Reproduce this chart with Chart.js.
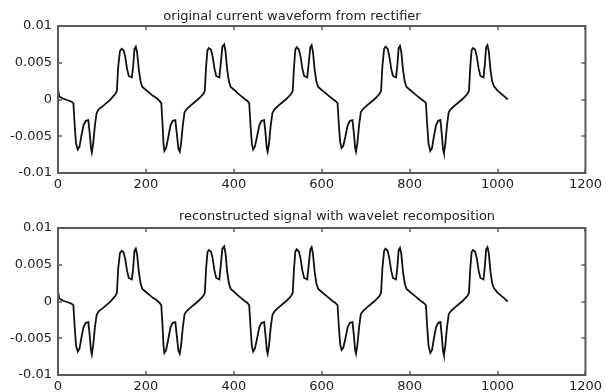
<!DOCTYPE html>
<html lang="en">
<head>
<meta charset="UTF-8">
<title>original vs reconstructed waveform</title>
<script src="https://cdn.jsdelivr.net/npm/chart.js"></script>
<style>
  body { margin: 0; background: #fff; width: 606px; height: 392px; overflow: hidden; }
  canvas { position: absolute; left: 0; }
  #origChart { top: 0; }
  #recChart { top: 202px; }
</style>
</head>
<body>
<canvas id="origChart" width="606" height="202"></canvas>
<canvas id="recChart" width="606" height="190"></canvas>
<script>
// sample index of each vertex (5 periods of ~200 samples)
const sampleIdx = [
  0, 3, 12, 22, 31, 35, 38, 41, 45, 49, 53, 58, 63, 69, 72, 75, 77, 80, 84, 88, 93, 102, 110, 118, 125, 131, 134, 137, 141, 145, 149, 153, 157, 161, 168, 171, 174, 177, 180, 184, 188, 192,
  200, 208, 216, 224, 231, 235, 238, 240, 242, 246, 251, 256, 261, 267, 270, 274, 277, 280, 284, 288, 293, 302, 310, 318, 325, 331, 334, 337, 340, 343, 348, 352, 356, 360, 367, 370, 374, 378, 381, 385, 389, 393,
  401, 408, 416, 424, 431, 435, 438, 441, 444, 448, 453, 458, 463, 469, 472, 475, 477, 480, 484, 488, 493, 502, 510, 518, 525, 531, 534, 537, 540, 543, 548, 552, 556, 560, 567, 570, 574, 577, 580, 584, 588, 592,
  600, 608, 616, 624, 631, 636, 639, 642, 645, 649, 654, 659, 664, 670, 673, 676, 678, 681, 685, 689, 694, 703, 711, 719, 726, 732, 735, 738, 742, 745, 750, 754, 758, 762, 769, 772, 775, 778, 781, 785, 789, 793,
  801, 809, 817, 825, 832, 837, 840, 843, 847, 851, 855, 860, 865, 870, 873, 876, 878, 881, 885, 889, 894, 903, 911, 919, 926, 932, 935, 938, 941, 944, 949, 953, 957, 961, 968, 971, 974, 977, 980, 984, 988, 992,
  1000, 1008, 1016, 1023
];

// rectifier current, same vertices
const original = [
  0.0014, 0.0004, 0.0001, -0.0001, -0.0003, -0.0005, -0.0035, -0.0060, -0.0068, -0.0064, -0.0050, -0.0035, -0.0029, -0.0028, -0.0045, -0.0066, -0.0072, -0.0060, -0.0035, -0.0018, -0.0013, -0.0009, -0.0005, -0.0001, 0.0004, 0.0008, 0.0012, 0.0045, 0.0066, 0.0069, 0.0067, 0.0058, 0.0042, 0.0032, 0.0030, 0.0045, 0.0069, 0.0072, 0.0064, 0.0040, 0.0024, 0.0017,
  0.0013, 0.0009, 0.0005, 0.0002, -0.0002, -0.0005, -0.0035, -0.0060, -0.0070, -0.0066, -0.0051, -0.0035, -0.0029, -0.0028, -0.0045, -0.0067, -0.0071, -0.0060, -0.0035, -0.0017, -0.0013, -0.0008, -0.0004, 0.0000, 0.0004, 0.0008, 0.0012, 0.0045, 0.0067, 0.0070, 0.0068, 0.0058, 0.0042, 0.0032, 0.0030, 0.0047, 0.0072, 0.0075, 0.0066, 0.0040, 0.0024, 0.0017,
  0.0013, 0.0009, 0.0005, 0.0001, -0.0002, -0.0005, -0.0035, -0.0060, -0.0068, -0.0064, -0.0050, -0.0035, -0.0029, -0.0028, -0.0045, -0.0066, -0.0071, -0.0060, -0.0035, -0.0018, -0.0013, -0.0008, -0.0004, 0.0000, 0.0004, 0.0008, 0.0012, 0.0045, 0.0068, 0.0071, 0.0068, 0.0058, 0.0042, 0.0032, 0.0030, 0.0047, 0.0071, 0.0074, 0.0065, 0.0040, 0.0024, 0.0017,
  0.0013, 0.0009, 0.0005, 0.0001, -0.0002, -0.0005, -0.0035, -0.0058, -0.0066, -0.0063, -0.0050, -0.0035, -0.0029, -0.0028, -0.0045, -0.0066, -0.0071, -0.0060, -0.0035, -0.0017, -0.0013, -0.0008, -0.0004, 0.0000, 0.0004, 0.0008, 0.0012, 0.0045, 0.0069, 0.0072, 0.0069, 0.0058, 0.0042, 0.0032, 0.0030, 0.0046, 0.0070, 0.0073, 0.0065, 0.0040, 0.0024, 0.0017,
  0.0013, 0.0009, 0.0005, 0.0001, -0.0002, -0.0005, -0.0035, -0.0060, -0.0070, -0.0066, -0.0051, -0.0035, -0.0029, -0.0028, -0.0046, -0.0068, -0.0073, -0.0061, -0.0035, -0.0017, -0.0013, -0.0008, -0.0004, 0.0000, 0.0004, 0.0008, 0.0012, 0.0045, 0.0067, 0.0070, 0.0068, 0.0058, 0.0042, 0.0032, 0.0030, 0.0047, 0.0071, 0.0074, 0.0066, 0.0040, 0.0024, 0.0018,
  0.0012, 0.0008, 0.0004, 0.0000
];

// the recomposed signal reads identical to the original in the picture
const reconstructed = original.slice();

const xTicks = [0, 200, 400, 600, 800, 1000, 1200];
const yTicks = [-0.01, -0.005, 0, 0.005, 0.01];
const yTickLabels = ['-0.01', '-0.005', '0', '0.005', '0.01'];

const FONT = 'DejaVu Sans';
const INK = '#222';
const FRAME = '#5a5a5a';

// matlab style box: full frame, inward ticks on all four sides, title above
const matlabFrame = {
  id: 'matlabFrame',
  afterDraw(chart, args, opts) {
    const { ctx, chartArea: a, scales } = chart;
    ctx.save();
    ctx.strokeStyle = FRAME;
    ctx.lineWidth = 2;
    ctx.strokeRect(a.left, a.top, a.right - a.left, a.bottom - a.top);
    ctx.lineWidth = 1.5;
    ctx.beginPath();
    xTicks.forEach(v => {
      const px = Math.round(scales.x.getPixelForValue(v));
      ctx.moveTo(px, a.bottom); ctx.lineTo(px, a.bottom - 4);
      ctx.moveTo(px, a.top); ctx.lineTo(px, a.top + 4);
    });
    yTicks.forEach(v => {
      const py = Math.round(scales.y.getPixelForValue(v));
      ctx.moveTo(a.left, py); ctx.lineTo(a.left + 4, py);
      ctx.moveTo(a.right, py); ctx.lineTo(a.right - 4, py);
    });
    ctx.stroke();
    ctx.fillStyle = INK;
    ctx.font = '13px "' + FONT + '"';
    ctx.textAlign = 'center';
    ctx.textBaseline = 'middle';
    ctx.fillText(opts.text, opts.x, opts.y);
    ctx.restore();
  }
};

function makeChart(id, series, title, titleX, titleY, xAxisHeight) {
  return new Chart(document.getElementById(id), {
    type: 'scatter',
    data: {
      datasets: [{
        data: sampleIdx.map((x, i) => ({ x: x, y: series[i] })),
        showLine: true,
        borderColor: '#111',
        borderWidth: 1.8,
        pointRadius: 0,
        tension: 0
      }]
    },
    options: {
      responsive: false,
      animation: false,
      events: [],
      layout: { padding: { left: 0, right: 19, top: 26, bottom: 0 } },
      plugins: {
        legend: { display: false },
        tooltip: { enabled: false },
        matlabFrame: { text: title, x: titleX, y: titleY }
      },
      scales: {
        x: {
          type: 'linear',
          min: 0,
          max: 1200,
          afterBuildTicks: s => { s.ticks = xTicks.map(v => ({ value: v })); },
          ticks: {
            color: INK,
            font: { family: FONT, size: 13 },
            padding: 4,
            maxRotation: 0,
            autoSkip: false,
            callback: v => String(v)
          },
          grid: { display: false, drawTicks: false, tickLength: 0 },
          border: { display: false },
          afterFit: s => { s.height = xAxisHeight; }
        },
        y: {
          min: -0.01,
          max: 0.01,
          afterBuildTicks: s => { s.ticks = yTicks.map(v => ({ value: v })); },
          ticks: {
            color: INK,
            font: { family: FONT, size: 13 },
            padding: 6,
            callback: v => yTickLabels[yTicks.findIndex(t => Math.abs(t - v) < 1e-9)]
          },
          grid: { display: false, drawTicks: false, tickLength: 0 },
          border: { display: false },
          afterFit: s => { s.width = 58; }
        }
      }
    },
    plugins: [matlabFrame]
  });
}

makeChart('origChart', original, 'original current waveform from rectifier', 292, 17, 29);
makeChart('recChart', reconstructed, 'reconstructed signal with wavelet recomposition', 337, 15, 17);
</script>
</body>
</html>
